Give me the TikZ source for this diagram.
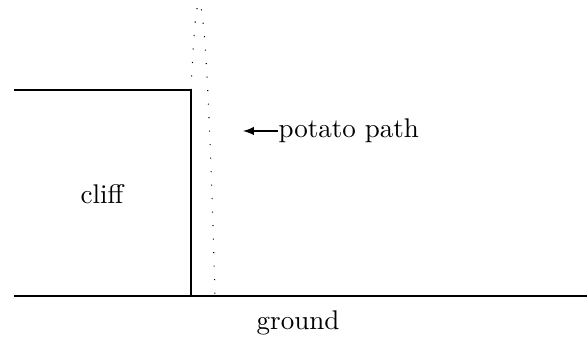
\documentclass[tikz,border=0pt]{standalone}
\begin{document}
\begin{tikzpicture}[x=0.37pt,y=-0.37pt,>=latex]
\useasboundingbox (0,0) rectangle (587,337);
\coordinate (gl) at (14,296);
\coordinate (gr) at (587,296);
\coordinate (cl) at (14,90);
\coordinate (top) at (191,90);
\coordinate (foot) at (191,296);
\coordinate (land) at (215,296);
\coordinate (tip) at (243,131);

\draw (gl) -- (gr);
\draw (cl) -- (top) -- (foot);
\draw[dash pattern=on 0.4pt off 4.6pt] (top) parabola bend (199,3) (land);

\node (cliff) at (102,194) {cliff};
\node (ground) at (298,323) {ground};
\node[inner sep=0pt,anchor=west] (path) at (278,131) {potato path};
\draw[->] (path.west) -- (tip);
\end{tikzpicture}
\end{document}
